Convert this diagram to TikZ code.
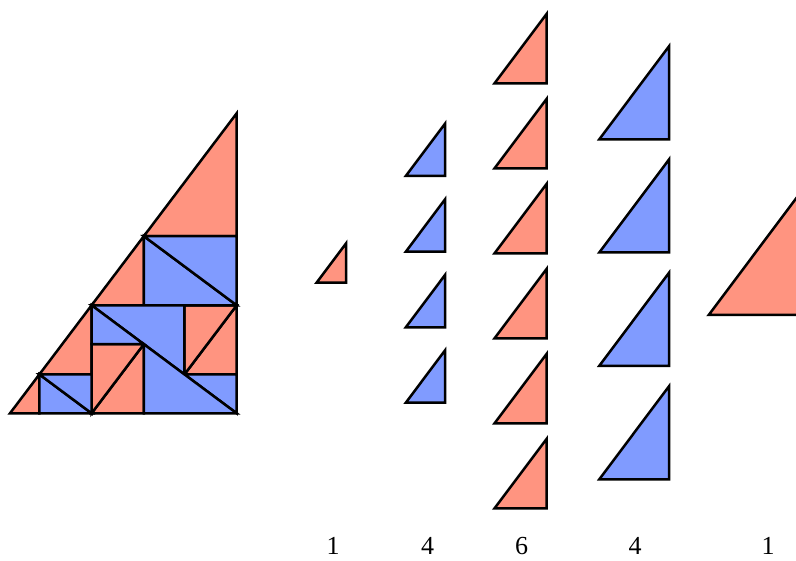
\documentclass[tikz,border=0pt]{standalone}
\usepackage{fontspec}
\setmainfont{Liberation Serif}
\definecolor{tred}{RGB}{255,148,128}
\definecolor{tblue}{RGB}{128,155,255}
\tikzset{
  redtri/.style={fill=tred, draw=black, line width=2.5pt},
  bluetri/.style={fill=tblue, draw=black, line width=2.5pt},
  countlabel/.style={anchor=base, inner sep=0pt, font=\fontsize{26}{30}\selectfont}
}
% right-angle corner at (#1,#2), width #3, height #4
\newcommand\rtri[5]{\path[#5] (#1-#3,#2) -- (#1,#2) -- (#1,#2+#4) -- cycle;}
\begin{document}
\begin{tikzpicture}[x=1pt,y=1pt]
\useasboundingbox (0,0) rectangle (796,561);
% dissection
\begin{scope}[shift={(10,147.7)}, x=0.3627pt, y=0.36pt]
  \path[redtri] (0,0) -- (81,108) -- (81,0) -- cycle;
  \path[redtri] (81,108) -- (225,300) -- (225,108) -- cycle;
  \path[redtri] (225,300) -- (369,492) -- (369,300) -- cycle;
  \path[redtri] (369,492) -- (625,833.33) -- (625,492) -- cycle;
  \path[redtri] (225,0) -- (369,192) -- (369,0) -- cycle;
  \path[redtri] (225,0) -- (225,192) -- (369,192) -- cycle;
  \path[redtri] (481,108) -- (625,300) -- (625,108) -- cycle;
  \path[redtri] (481,108) -- (481,300) -- (625,300) -- cycle;
  \path[bluetri] (81,0) -- (81,108) -- (225,0) -- cycle;
  \path[bluetri] (81,108) -- (225,108) -- (225,0) -- cycle;
  \path[bluetri] (369,300) -- (369,492) -- (625,300) -- cycle;
  \path[bluetri] (369,492) -- (625,492) -- (625,300) -- cycle;
  \path[bluetri] (225,300) -- (481,300) -- (481,108) -- cycle;
  \path[bluetri] (481,108) -- (625,108) -- (625,0) -- cycle;
  \path[bluetri] (369,192) -- (369,0) -- (625,0) -- cycle;
  \path[bluetri] (225,300) -- (225,192) -- (369,192) -- cycle;
\end{scope}
% column 1
\rtri{346}{278.3}{29.4}{39.2}{redtri}
% column 2
\foreach \y in {385,309.3,233.7,158.3} {\rtri{445}{\y}{39.2}{52.3}{bluetri}}
% column 3
\foreach \y in {477.5,392.5,307.5,222.5,137.5,52.5} {\rtri{546.7}{\y}{52.3}{69.7}{redtri}}
% column 4
\foreach \y in {421.7,308.5,195.2,81.7} {\rtri{669}{\y}{69.7}{93}{bluetri}}
% column 5
\rtri{801.6}{246}{92.9}{123.9}{redtri}
% labels
\node[countlabel] (l1) at (333,6) {1};
\node[countlabel] (l2) at (427.7,6) {4};
\node[countlabel] (l3) at (521.7,6) {6};
\node[countlabel] (l4) at (635,6) {4};
\node[countlabel] (l5) at (768,6) {1};
\end{tikzpicture}
\end{document}
